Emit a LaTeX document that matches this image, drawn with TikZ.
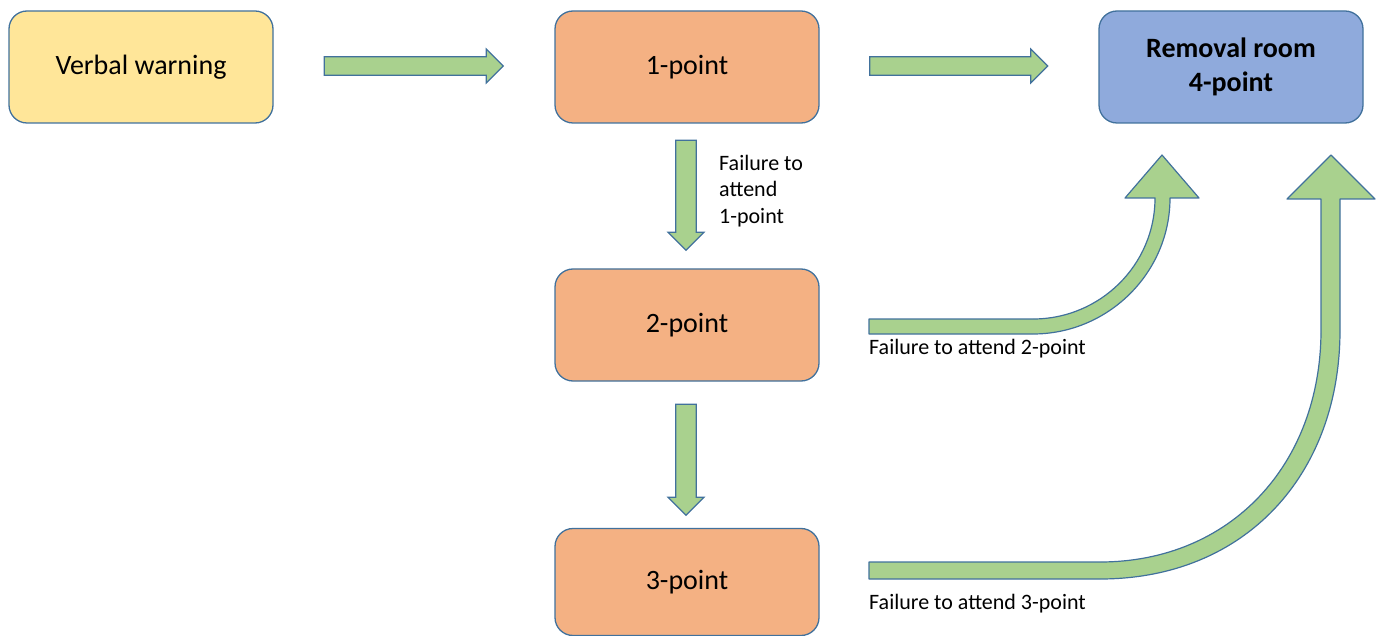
\documentclass[tikz,border=0pt]{standalone}
\usepackage{fontspec}
\setmainfont{Carlito}
\usetikzlibrary{shapes.arrows}
\definecolor{edgeblue}{HTML}{41719C}
\definecolor{warnyellow}{HTML}{FFE699}
\definecolor{pointorange}{HTML}{F4B183}
\definecolor{roomblue}{HTML}{8FAADC}
\definecolor{arrowgreen}{HTML}{A9D18E}
\tikzset{
	stage/.style={draw=edgeblue, line width=1.3pt, rounded corners=18pt,
		minimum width=264pt, minimum height=112pt, inner sep=0pt,
		align=center, font=\fontsize{28}{34}\selectfont},
	blockarrow/.style={single arrow, draw=edgeblue, fill=arrowgreen,
		line width=1.2pt, single arrow tip angle=90},
	note/.style={inner sep=0pt, align=left, font=\fontsize{22}{26.5}\selectfont}
}
\begin{document}
\begin{tikzpicture}[x=1pt,y=-1pt]
	\useasboundingbox (0,0) rectangle (1381,636);
	% stages
	\node[stage, fill=warnyellow](warn) at (141,67) {Verbal warning};
	\node[stage, fill=pointorange](p1) at (687,67) {1-point};
	\node[stage, fill=pointorange](p2) at (687,325) {2-point};
	\node[stage, fill=pointorange, minimum height=107pt](p3) at (687,582) {3-point};
	\node[stage, fill=roomblue, font=\fontsize{28}{34}\selectfont\bfseries](room) at (1231,67) {Removal room\\4-point};
	% straight arrows
	\node[blockarrow, inner sep=8pt, minimum height=179pt, minimum width=34pt](a1) at (409,66) {};
	\node[blockarrow, inner sep=8pt, minimum height=178pt, minimum width=34pt](a2) at (954,66) {};
	\node[blockarrow, inner sep=9pt, minimum height=110pt, minimum width=36pt, shape border rotate=270](a3) at (686,190) {};
	\node[blockarrow, inner sep=9pt, minimum height=111pt, minimum width=36pt, shape border rotate=270](a4) at (686,454.5) {};
	% curved arrows
	\filldraw[draw=edgeblue, fill=arrowgreen, line width=1.2pt, line join=round]
		(869,319) -- (1033,319) .. controls (1100,319) and (1155,265) .. (1155,198)
		-- (1125,198) -- (1162,155) -- (1199,198) -- (1170,198)
		.. controls (1170,273) and (1108,334) .. (1033,334) -- (869,334) -- cycle;
	\filldraw[draw=edgeblue, fill=arrowgreen, line width=1.2pt, line join=round]
		(869,562) -- (1100,562) .. controls (1230,562) and (1321,465) .. (1321,330)
		-- (1321,199) -- (1287,199) -- (1331,155) -- (1375,199) -- (1340,199) -- (1340,330)
		.. controls (1340,475) and (1245,579) .. (1100,579) -- (869,579) -- cycle;
	% labels
	\node[note, anchor=north west](f1) at (719,155) {Failure to\\attend\\1-point};
	\node[note, anchor=west](f2) at (869,349) {Failure to attend 2-point};
	\node[note, anchor=west](f3) at (869,604) {Failure to attend 3-point};
\end{tikzpicture}
\end{document}
